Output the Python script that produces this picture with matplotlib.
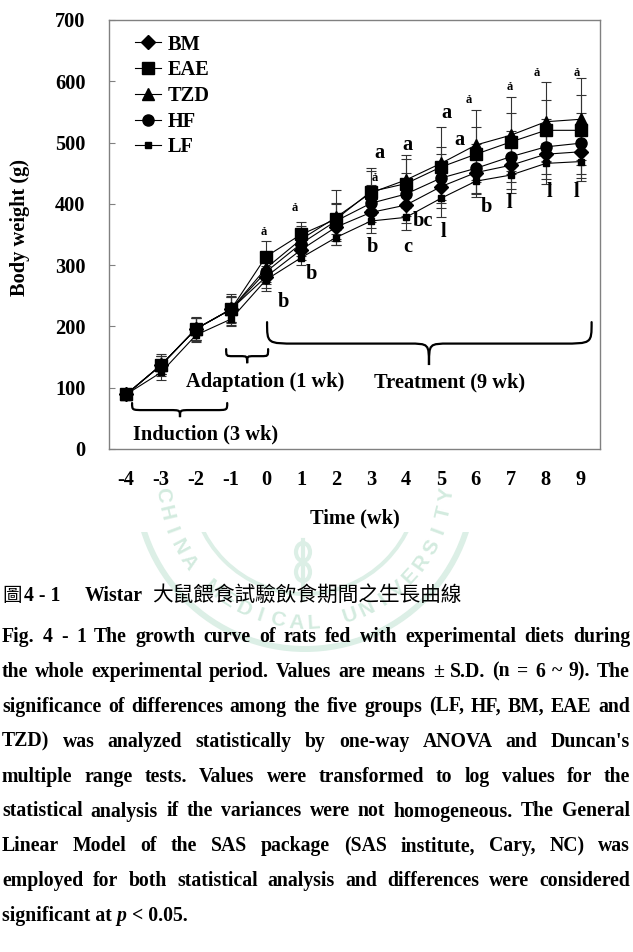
import numpy as np
import matplotlib
matplotlib.use("Agg")
import matplotlib.pyplot as plt
from matplotlib.path import Path
from matplotlib.patches import PathPatch, Wedge, Rectangle, Ellipse

plt.rcParams['font.family'] = ['Liberation Serif', 'Noto Sans CJK TC']
plt.rcParams['font.weight'] = 'bold'
plt.rcParams['axes.unicode_minus'] = False

# --- data ---
weeks = [-4, -3, -2, -1, 0, 1, 2, 3, 4, 5, 6, 7, 8, 9]
groups = ["BM", "EAE", "TZD", "HF", "LF"]
bm_mean  = [89, 137, 196, 228, 281, 325, 362, 386, 398, 428, 451, 463, 481, 485]
eae_mean = [89, 137, 196, 228, 314, 350, 375, 420, 433, 460, 481, 501, 520, 520]
tzd_mean = [89, 137, 196, 228, 295, 342, 378, 418, 439, 466, 496, 512, 534, 538]
hf_mean  = [89, 137, 196, 228, 289, 335, 372, 401, 416, 442, 458, 477, 493, 499]
lf_mean  = [89, 125, 186, 212, 276, 312, 345, 372, 378, 409, 437, 447, 466, 469]
bm_sd  = [2, 15, 18, 20, 18, 17, 22, 25, 30, 35, 35, 38, 40, 42]
eae_sd = [2, 18, 20, 25, 25, 20, 25, 38, 40, 33, 45, 47, 50, 57]
tzd_sd = [2, 15, 18, 22, 22, 22, 45, 36, 41, 60, 57, 63, 65, 67]
hf_sd  = [2, 15, 18, 20, 20, 20, 30, 30, 35, 40, 40, 42, 45, 50]
lf_sd  = [2, 12, 11, 12, 19, 12, 12, 19, 21, 30, 25, 30, 33, 32]

# significance letters: (week position, weight position, text)
sig_x = [-0.06, 0.51, 0.83, 1.31, 3.23, 3.11, 3.03, 4.03, 4.06, 4.49, 5.17, 5.54,
         5.06, 5.80, 6.29, 6.97, 6.97, 7.74, 8.11, 8.89, 8.89]
sig_y = [354, 240, 393, 285, 483, 442, 330, 496, 330, 372, 548, 504,
         354, 569, 395, 591, 401, 613, 419, 613, 419]
sig_t = ["ả", "b", "ả", "b", "a", "ả", "b", "a", "c", "bc", "a", "a",
         "l", "ả", "b", "ả", "l", "ả", "l", "ả", "l"]

caption_cn = "大鼠餵食試驗飲食期間之生長曲線"
caption_lines = [
    "Fig. 4 - 1 The growth curve of rats fed with experimental diets during",
    "the whole experimental period. Values are means ± S.D. (n = 6 ~ 9). The",
    "significance of differences among the five groups (LF, HF, BM, EAE and",
    "TZD) was analyzed statistically by one-way ANOVA and Duncan's",
    "multiple range tests. Values were transformed to log values for the",
    "statistical analysis if the variances were not homogeneous. The General",
    "Linear Model of the SAS package (SAS institute, Cary, NC) was",
    "employed for both statistical analysis and differences were considered",
]

W, H = 633, 952
fig = plt.figure(figsize=(W / 100, H / 100), dpi=100)

def fx(px): return px / W
def fy(py): return 1 - py / H

# --- faint watermark seal behind the caption ---
bg = fig.add_axes([0, 0, 1, 1], zorder=-5)
bg.set_xlim(0, W); bg.set_ylim(H, 0); bg.axis('off')
clip = Rectangle((0, 532), W, 300, transform=bg.transData)
wm = '#dcefe6'
for r, wd in [(172, 6), (116, 4)]:
    w = Wedge((305, 480), r, 0, 180, width=wd, color=wm, lw=0)
    bg.add_patch(w); w.set_clip_path(clip)
seal = "CHINA MEDICAL UNIVERSITY"
for i, ch in enumerate(seal):
    phi = 174 - i * 168 / (len(seal) - 1)
    x = 305 + 143 * np.cos(np.radians(phi)); y = 480 + 143 * np.sin(np.radians(phi))
    t = bg.text(x, y, ch, ha='center', va='center', rotation=90 - phi, fontsize=15,
                family='Liberation Sans', weight='bold', color='#d3ebdf')
    t.set_clip_path(clip)
bg.plot([303, 303], [540, 600], color=wm, lw=3)
for yy in (552, 572):
    bg.add_patch(Ellipse((303, yy), 14, 18, fill=False, ec=wm, lw=3))

# --- main chart ---
ax = fig.add_axes([fx(109), fy(449), (600 - 109) / W, (449 - 20) / H])
means = [bm_mean, eae_mean, tzd_mean, hf_mean, lf_mean]
sds = [bm_sd, eae_sd, tzd_sd, hf_sd, lf_sd]
markers = ['D', 's', '^', 'o', 's']
msizes = [7, 8.5, 9, 8, 5]
for m, s in zip(means, sds):
    ax.errorbar(weeks, m, yerr=s, fmt='none', ecolor='#333333', elinewidth=0.8,
                capsize=3.5, capthick=0.8, zorder=2)
handles = {}
for i in [4, 0, 3, 2, 1]:
    ln, = ax.plot(weeks, means[i], color='black', lw=0.8, marker=markers[i],
                  ms=msizes[i], mfc='black', mec='black', zorder=3, label=groups[i])
    handles[groups[i]] = ln
ax.legend([handles[g] for g in groups], groups, loc='upper left', bbox_to_anchor=(0.053, 0.966),
          frameon=False, fontsize=14.7, borderpad=0, borderaxespad=0, labelspacing=0.28,
          handlelength=1.25, handletextpad=0.35)

ax.set_xlim(-4.49, 9.55)
ax.set_ylim(0, 700)
ax.set_yticks(range(0, 701, 100))
ax.set_xticks(weeks)
ax.tick_params(axis='y', direction='in', length=4, width=0.8, color='#808080', pad=17, labelsize=14.7)
ax.tick_params(axis='x', length=0, pad=15, labelsize=14.7)
for sp in ax.spines.values():
    sp.set_color('#808080'); sp.set_linewidth(1.0)

# braces marking the periods
def brace(x0, x1, xm, ytop, ybot, d_end, d_tip):
    ym = (ytop + ybot) / 2
    v = [(x0, ytop), (x0, ym), (x0, ym), (x0 + d_end, ym),
         (xm - d_tip, ym),
         (xm, ym), (xm, ym), (xm, ybot),
         (xm, ym), (xm, ym), (xm + d_tip, ym),
         (x1 - d_end, ym),
         (x1, ym), (x1, ym), (x1, ytop)]
    c = [Path.MOVETO, Path.CURVE4, Path.CURVE4, Path.CURVE4, Path.LINETO,
         Path.CURVE4, Path.CURVE4, Path.CURVE4, Path.CURVE4, Path.CURVE4, Path.CURVE4,
         Path.LINETO, Path.CURVE4, Path.CURVE4, Path.CURVE4]
    ax.add_patch(PathPatch(Path(v, c), fill=False, lw=1.6, ec='black', capstyle='round'))

brace(-3.83, -1.11, -2.46, 75, 52, 0.34, 0.3)
brace(-1.14, 0.06, -0.54, 163, 140, 0.2, 0.2)
brace(0.03, 9.31, 4.66, 207, 137, 0.85, 0.6)
ax.text(-1.74, 23, "Induction (3 wk)", ha='center', va='center', fontsize=14.7)
ax.text(-0.03, 109, "Adaptation (1 wk)", ha='center', va='center', fontsize=14.7)
ax.text(5.26, 109, "Treatment (9 wk)", ha='center', va='center', fontsize=14.7)

for x, y, t in zip(sig_x, sig_y, sig_t):
    small = t == "ả"
    ax.text(x, y, t, ha='center', va='center', fontsize=9 if small else 14.7)

fig.text(fx(20), fy(228), "Body weight (g)", rotation=90, ha='center', va='center', fontsize=14.7)
fig.text(fx(355), fy(518), "Time (wk)", ha='center', va='center', fontsize=14.7)

# --- caption (baselines sit ~6 px below the line centre) ---
cap_fs = 14.2
base = 6
fig.text(fx(2), fy(595 + base), "圖", family=['Noto Sans CJK TC'], weight='normal', fontsize=14, va='baseline')
fig.text(fx(24), fy(595 + base), "4 - 1", fontsize=cap_fs, va='baseline')
fig.text(fx(85), fy(595 + base), "Wistar", fontsize=cap_fs, va='baseline')
fig.text(fx(152), fy(595 + base), caption_cn, family=['Noto Sans CJK TC'], weight='normal',
         fontsize=14.9, va='baseline')

r = fig.canvas.get_renderer()
def justify(words, ypx, x0=2, x1=630):
    ts = [fig.text(0, fy(ypx + base), w, fontsize=cap_fs, va='baseline') for w in words]
    ws = [t.get_window_extent(r).width for t in ts]
    gap = (x1 - x0 - sum(ws)) / (len(words) - 1)
    x = x0
    for t, w in zip(ts, ws):
        t.set_x(fx(x)); x += w + gap

line_y0, line_dy = 636, 34.9
for k, line in enumerate(caption_lines):
    justify(line.split(), line_y0 + k * line_dy)
ylast = line_y0 + len(caption_lines) * line_dy
x = 2
for seg, sty in [("significant at", 'normal'), ("p", 'italic'), ("< 0.05.", 'normal')]:
    t = fig.text(fx(x), fy(ylast + base), seg, fontsize=cap_fs, style=sty, va='baseline')
    x += t.get_window_extent(r).width + 0.25 * cap_fs * 100 / 72

fig.savefig("out.png", dpi=100)
